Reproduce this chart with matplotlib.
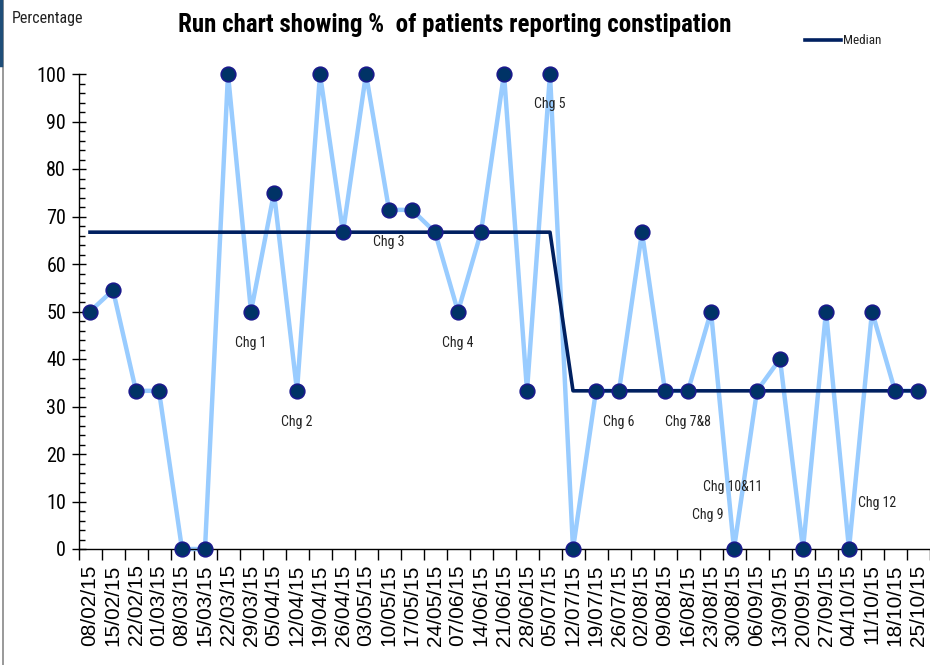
import matplotlib.pyplot as plt
from matplotlib.ticker import MultipleLocator, FixedLocator
from matplotlib.lines import Line2D

narrow = ['Roboto Condensed', 'DejaVu Sans Condensed', 'Liberation Sans Narrow',
          'Arial Narrow', 'Liberation Sans']
plt.rcParams['font.family'] = narrow

dates = ['08/02/15', '15/02/15', '22/02/15', '01/03/15', '08/03/15', '15/03/15',
         '22/03/15', '29/03/15', '05/04/15', '12/04/15', '19/04/15', '26/04/15',
         '03/05/15', '10/05/15', '17/05/15', '24/05/15', '07/06/15', '14/06/15',
         '21/06/15', '28/06/15', '05/07/15', '12/07/15', '19/07/15', '26/07/15',
         '02/08/15', '09/08/15', '16/08/15', '23/08/15', '30/08/15', '06/09/15',
         '13/09/15', '20/09/15', '27/09/15', '04/10/15', '11/10/15', '18/10/15',
         '25/10/15']
pct = [50, 54.5, 33.3, 33.3, 0, 0, 100, 50, 75, 33.3, 100, 66.7, 100, 71.4, 71.4,
       66.7, 50, 66.7, 100, 33.3, 100, 0, 33.3, 33.3, 66.7, 33.3, 33.3, 50, 0, 33.3,
       40, 0, 50, 0, 50, 33.3, 33.3]
median = [66.7] * 21 + [33.3] * 16

# change annotations: (label, x index, y value)
chg_labels = ['Chg 1', 'Chg 2', 'Chg 3', 'Chg 4', 'Chg 5', 'Chg 6', 'Chg 7&8',
              'Chg 10&11', 'Chg 9', 'Chg 12']
chg_x = [7, 9, 13, 16, 20, 23, 26, 27.95, 26.85, 34.2]
chg_y = [43.4, 26.7, 64.6, 43.4, 93.7, 26.7, 26.7, 13.0, 7.2, 9.7]

x = list(range(len(dates)))

fig = plt.figure(figsize=(9.3, 6.65), dpi=100)
ax = fig.add_axes([78.5 / 930, 1 - 549 / 665, 851 / 930, 475 / 665])

ax.plot(x, pct, color='#99ccff', lw=3.2, zorder=2, clip_on=False)
ax.plot(x, median, color='#002060', lw=2.6, zorder=3, clip_on=False)
ax.plot(x, pct, ls='none', marker='o', ms=10.5, mfc='#003366', mec='#1a1a8c',
        mew=1.2, zorder=4, clip_on=False)

for lab, cx, cy in zip(chg_labels, chg_x, chg_y):
    ax.text(cx, cy, lab, ha='center', va='center', fontsize=10, color='#222222')

ax.set_xlim(-0.5, len(dates) - 0.5)
ax.set_ylim(0, 100)

ax.yaxis.set_major_locator(MultipleLocator(10))
ax.yaxis.set_minor_locator(MultipleLocator(2))
ax.tick_params(axis='y', which='major', direction='inout', length=10, width=1,
               labelsize=14.5, pad=4)
ax.tick_params(axis='y', which='minor', direction='in', length=4, width=1)

ax.set_xticks(x)
ax.set_xticklabels(dates, rotation=90, fontsize=15, family='Liberation Sans')
ax.xaxis.set_minor_locator(FixedLocator([i - 0.5 for i in range(len(dates) + 1)]))
ax.tick_params(axis='x', which='major', length=0, pad=11)
ax.tick_params(axis='x', which='minor', direction='out', length=8, width=1)

for s in ['top', 'right']:
    ax.spines[s].set_visible(False)
for s in ['left', 'bottom']:
    ax.spines[s].set_linewidth(1)
    ax.spines[s].set_color('black')

fig.text(455 / 930, 1 - 25 / 665, 'Run chart showing %  of patients reporting constipation',
         ha='center', va='center', fontsize=18, fontweight='bold')
fig.text(12 / 930, 1 - 18 / 665, 'Percentage', ha='left', va='center', fontsize=11.5,
         color='#222222')

# legend
fig.add_artist(Line2D([805 / 930, 841 / 930], [1 - 40 / 665, 1 - 40 / 665],
                      color='#002060', lw=2.6))
fig.text(843 / 930, 1 - 40 / 665, 'Median', ha='left', va='center', fontsize=9.5,
         color='#222222')

# frame edge on the left
fig.add_artist(Line2D([2.5 / 930, 2.5 / 930], [0, 1], color='#888888', lw=1.2))
fig.add_artist(Line2D([1 / 930, 1 / 930], [1 - 65 / 665, 1], color='#1f4e79', lw=2.5))

fig.savefig('out.png', dpi=100)
